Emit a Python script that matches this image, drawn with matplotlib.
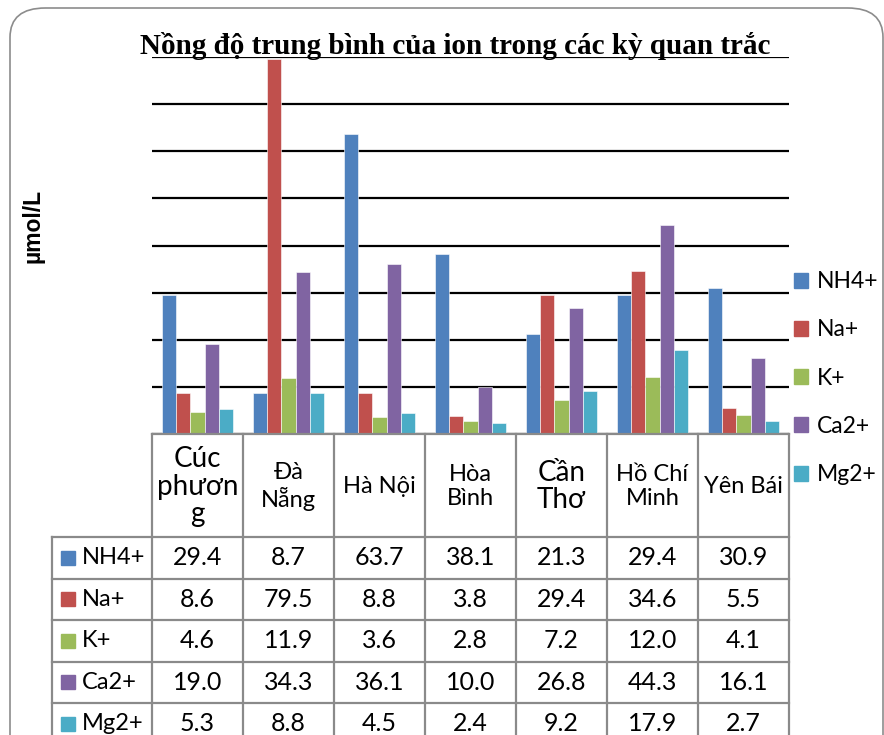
import numpy as np
import matplotlib
matplotlib.use('Agg')
import matplotlib.pyplot as plt
from matplotlib.patches import FancyBboxPatch, Rectangle

sites = ['Cúc\nphươn\ng', 'Đà\nNẵng', 'Hà Nội', 'Hòa\nBình', 'Cần\nThơ', 'Hồ Chí\nMinh', 'Yên Bái']
site_big = [True, False, False, False, True, False, False]
ions = ['NH4+', 'Na+', 'K+', 'Ca2+', 'Mg2+']
nh4 = [29.4, 8.7, 63.7, 38.1, 21.3, 29.4, 30.9]
na = [8.6, 79.5, 8.8, 3.8, 29.4, 34.6, 5.5]
k = [4.6, 11.9, 3.6, 2.8, 7.2, 12.0, 4.1]
ca = [19.0, 34.3, 36.1, 10.0, 26.8, 44.3, 16.1]
mg = [5.3, 8.8, 4.5, 2.4, 9.2, 17.9, 2.7]
series = [nh4, na, k, ca, mg]
colors = ['#4F81BD', '#C0504D', '#9BBB59', '#8064A2', '#4BACC6']

W, H = 884, 735
plt.rcParams['font.family'] = ['Lato', 'DejaVu Sans']
fig = plt.figure(figsize=(W / 100, H / 100), dpi=100)

def box(x0, y0, x1, y1):
    # pixel box (top-left origin) -> figure fraction
    return [x0 / W, 1 - y1 / H, (x1 - x0) / W, (y1 - y0) / H]

# outer rounded frame
frame = FancyBboxPatch((10 / W, -0.1), (873 / W), 1 - 8 / H + 0.1,
                       boxstyle='round,pad=0,rounding_size=0.04',
                       transform=fig.transFigure, fill=False,
                       edgecolor='#8c8c8c', linewidth=1.2)
fig.patches.append(frame)

# main bar axes
ax = fig.add_axes(box(152, 57, 789, 434))
n = len(sites)
x = np.arange(n) + 0.5
bw = 0.154
for j, (vals, c) in enumerate(zip(series, colors)):
    ax.bar(x + (j - 2) * bw, vals, width=bw, color=c, edgecolor='white',
           linewidth=0.4, label=ions[j], zorder=3)
ax.set_xlim(0, n)
ax.set_ylim(0, 80)
ax.set_yticks(np.arange(0, 81, 10))
ax.yaxis.grid(True, color='black', linewidth=1.6, zorder=1)
ax.tick_params(left=False, bottom=False, labelleft=False, labelbottom=False)
for s in ax.spines.values():
    s.set_visible(False)
ax.set_facecolor('none')

fig.text(455 / W, 1 - 46 / H, 'Nồng độ trung bình của ion trong các kỳ quan trắc',
         ha='center', va='center', fontsize=21, fontweight='bold',
         family=['Liberation Serif', 'DejaVu Serif'])
fig.text(33 / W, 1 - 226 / H, 'µmol/L', rotation=90, ha='center', va='center',
         fontsize=16.5, fontweight='bold', family=['Liberation Sans', 'DejaVu Sans'])

# legend
handles = [Rectangle((0, 0), 1, 1, color=c) for c in colors]
fig.legend(handles, ions, loc='upper left', bbox_to_anchor=(785 / W, 1 - 262 / H),
           frameon=False, fontsize=16.5, handlelength=0.62, handleheight=0.62,
           handletextpad=0.35, labelspacing=1.19, borderaxespad=0)

# data table
HEAD_H = 103
ROW_H = 41.5
LABEL_W = 100 / 91
tab = fig.add_axes(box(52, 434, 789, 735))
tab.set_xlim(-LABEL_W, n)
tab.set_ylim(301, 0)
tab.axis('off')
gc = '#8a8a8a'
lw = 1.6
# header
tab.plot([0, n], [0, 0], color=gc, lw=lw, clip_on=False)
for i in range(n + 1):
    tab.plot([i, i], [0, 320], color=gc, lw=lw, clip_on=False)
tab.plot([-LABEL_W, -LABEL_W], [HEAD_H, 320], color=gc, lw=lw, clip_on=False)
for r in range(len(ions)):
    yy = HEAD_H + r * ROW_H
    tab.plot([-LABEL_W, n], [yy, yy], color=gc, lw=lw, clip_on=False)
for i, s in enumerate(sites):
    tab.text(i + 0.5, HEAD_H / 2 + 1, s, ha='center', va='center',
             fontsize=20 if site_big[i] else 17,
             linespacing=1.05 if site_big[i] else 1.2)
for r, (name, vals, c) in enumerate(zip(ions, series, colors)):
    yc = HEAD_H + (r + 0.5) * ROW_H
    tab.add_patch(Rectangle((-LABEL_W + 0.1, yc - 7), 0.155, 14, color=c, clip_on=False))
    tab.text(-LABEL_W + 0.33, yc, name, ha='left', va='center', fontsize=17)
    for i, v in enumerate(vals):
        tab.text(i + 0.5, yc, f'{v:.1f}', ha='center', va='center', fontsize=18)

fig.savefig('out.png', dpi=100)
